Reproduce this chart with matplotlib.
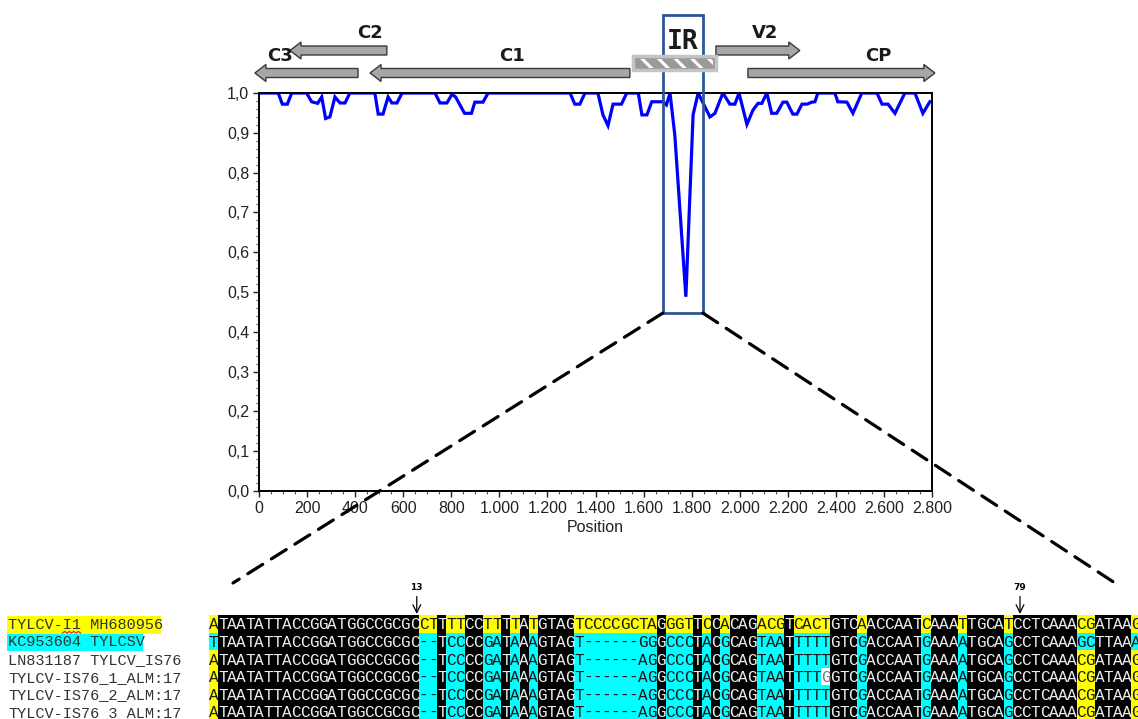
import numpy as np
import matplotlib
matplotlib.use("Agg")
import matplotlib.pyplot as plt
from matplotlib.patches import Polygon, Rectangle, ConnectionPatch
from matplotlib.ticker import FuncFormatter, MultipleLocator
from matplotlib.colors import to_rgb

# ---------------- data ----------------
position = [0, 80, 97, 118, 136, 198, 219, 244, 261, 277, 295, 316, 337, 358, 378,
            482, 496, 516, 537, 553, 574, 595, 732, 753, 782, 803, 818, 855, 884, 898,
            932, 953, 1294, 1314, 1335, 1356, 1410, 1431, 1452, 1473, 1508, 1530, 1578,
            1593, 1614, 1634, 1681, 1695, 1710, 1730, 1776, 1806, 1827, 1876, 1897, 1930,
            1959, 1980, 1997, 2030, 2055, 2076, 2092, 2113, 2133, 2154, 2180, 2196, 2221,
            2238, 2259, 2280, 2300, 2313, 2325, 2396, 2408, 2446, 2471, 2508, 2571, 2592,
            2617, 2646, 2687, 2729, 2762, 2791]
similarity = [1.0, 1.0, 0.972, 0.972, 1.0, 1.0, 0.978, 0.974, 0.99, 0.936, 0.94, 0.99, 0.975, 0.975, 1.0,
              1.0, 0.947, 0.947, 0.99, 0.975, 0.975, 1.0, 1.0, 0.975, 0.975, 0.997, 0.99, 0.949, 0.949, 0.977,
              0.977, 1.0, 1.0, 0.972, 0.972, 1.0, 1.0, 0.945, 0.918, 0.972, 0.972, 1.0, 1.0,
              0.945, 0.945, 0.978, 0.978, 0.97, 1.0, 0.894, 0.488, 0.945, 1.0, 0.94, 0.949, 1.0,
              0.972, 0.972, 1.0, 0.921, 0.957, 0.974, 0.974, 1.0, 0.949, 0.949, 0.977, 0.977, 0.947,
              0.947, 0.972, 0.972, 0.977, 0.978, 1.0, 1.0, 0.978, 0.977, 0.949, 1.0, 1.0, 0.972,
              0.972, 0.949, 1.0, 1.0, 0.949, 0.978]

y_ticks = [0.0, 0.1, 0.2, 0.3, 0.4, 0.5, 0.6, 0.7, 0.8, 0.9, 1.0]
x_ticks = [0, 200, 400, 600, 800, 1000, 1200, 1400, 1600, 1800, 2000, 2200, 2400, 2600, 2800]

gene_names = ["C3", "C2", "C1", "V2", "CP"]
gene_start = [412, 532, 1543, 1901, 2034]
gene_end = [-17, 129, 462, 2250, 2812]
gene_track = [0, 1, 0, 1, 0]
gene_label_x = [87, 462, 1052, 2105, 2575]
ir_start, ir_end = 1556, 1901
ir_label_x = 1764
zoom_start, zoom_end = 1680, 1847
zoom_floor = 0.447

seq_names = ["TYLCV-I1 MH680956", "KC953604 TYLCSV", "LN831187 TYLCV_IS76",
             "TYLCV-IS76_1_ALM:17", "TYLCV-IS76_2_ALM:17", "TYLCV-IS76_3_ALM:17"]
sequences = [
    "ATAATATTACCGGATGGCCGCGC" "CTTTTCCTTTTATGTAGTCCCCGCTAGGGTTCCACAG" "ACGTCACTGTCAACCAATCAAATTGCATCCTCAAACGATAAG",
    "TTAATATTACCGGATGGCCGCGC" "--TCCCCGATAAAGTAGT------GGGCCCTACGCAG" "TAATTTTTGTCGACCAATGAAAATGCAGCCTCAAAGCTTAAA",
    "ATAATATTACCGGATGGCCGCGC" "--TCCCCGATAAAGTAGT------AGGCCCTACGCAG" "TAATTTTTGTCGACCAATGAAAATGCAGCCTCAAACGATAAG",
    "ATAATATTACCGGATGGCCGCGC" "--TCCCCGATAAAGTAGT------AGGCCCTACGCAG" "TAATTTTGGTCGACCAATGAAAATGCAGCCTCAAACGATAAG",
    "ATAATATTACCGGATGGCCGCGC" "--TCCCCGATAAAGTAGT------AGGCCCTACGCAG" "TAATTTTTGTCGACCAATGAAAATGCAGCCTCAAACGATAAG",
    "ATAATATTACCGGATGGCCGCGC" "--TCCCCGATAAAGTAGT------AGGCCCTACGCAG" "TAATTTTTGTCGACCAATGAAAATGCAGCCTCAAACGATAAG",
]
# Y = yellow, C = cyan, K = black, W = white
shading = [
    "Y" + "K" * 22 + "YYKYYKKYYKYKYKKKKYYYYYYYYYKYYYKYKYKKK" + "YYYKYYYYKKKYKKKKKKYKKKYKKKKYKKKKKKKYYKKKKY",
    "C" + "K" * 22 + "CCKCCKKCCKCKCKKKKCCCCCCCCCKCCCKCKCKKK" + "CCCKCCCCKKKCKKKKKKCKKKCKKKKCKKKKKKKCCKKKKC",
    "Y" + "K" * 22 + "CCKCCKKCCKCKCKKKKCCCCCCCCCKCCCKCKCKKK" + "CCCKCCCCKKKCKKKKKKCKKKCKKKKCKKKKKKKYYKKKKY",
    "Y" + "K" * 22 + "CCKCCKKCCKCKCKKKKCCCCCCCCCKCCCKCKCKKK" + "CCCKCCCWKKKCKKKKKKCKKKCKKKKCKKKKKKKYYKKKKY",
    "Y" + "K" * 22 + "CCKCCKKCCKCKCKKKKCCCCCCCCCKCCCKCKCKKK" + "CCCKCCCCKKKCKKKKKKCKKKCKKKKCKKKKKKKYYKKKKY",
    "Y" + "K" * 22 + "CCKCCKKCCKCKCKKKKCCCCCCCCCKCCCKCKCKKK" + "CCCKCCCCKKKCKKKKKKCKKKCKKKKCKKKKKKKYYKKKKY",
]
name_shading = ["Y", "C", None, None, None, None]
marker_cols = [22.75, 88.8]
marker_labels = ["13", "79"]

# ---------------- figure ----------------
W, H = 1138, 719
fig = plt.figure(figsize=(W / 100, H / 100), dpi=100)
plt.rcParams["hatch.linewidth"] = 2.2

def fx(px):
    return px / W

def fy(py):
    return 1 - py / H

# main similarity axes
ax = fig.add_axes([fx(259), fy(491), (932 - 259) / W, (491 - 93) / H])
ax.plot(position, similarity, color="#0000FF", lw=2.3, zorder=2, solid_joinstyle="miter")
ax.set_xlim(0, 2800)
ax.set_ylim(0, 1.0)
ax.set_yticks(y_ticks)
ax.set_xticks(x_ticks)
ax.yaxis.set_minor_locator(MultipleLocator(0.02))
ax.xaxis.set_minor_locator(MultipleLocator(50))
ax.yaxis.set_major_formatter(FuncFormatter(lambda v, _: f"{v:.1f}".replace(".", ",")))
ax.xaxis.set_major_formatter(FuncFormatter(lambda v, _: f"{int(round(v)):,}".replace(",", ".")))
for lab in ax.get_xticklabels() + ax.get_yticklabels():
    lab.set_fontfamily("Liberation Sans")
ax.tick_params(which="major", direction="out", length=4, width=1, labelsize=11.5, colors="#222222", pad=3)
ax.tick_params(which="minor", direction="out", length=2, width=0.8, color="#555555")
for sp in ax.spines.values():
    sp.set_linewidth(1.4)
    sp.set_color("black")
ax.set_xlabel("Position", fontsize=11.5, fontfamily="Liberation Sans", color="#222222", labelpad=3)

# zoom box around IR
ax.add_patch(Rectangle((zoom_start, zoom_floor), zoom_end - zoom_start, 1.196 - zoom_floor,
                       fill=False, ec="#2F5597", lw=2.0, clip_on=False, zorder=6))

# gene map axes
axg = fig.add_axes([fx(259), fy(92), (932 - 259) / W, (92 - 8) / H])
axg.set_xlim(0, 2800)
axg.set_ylim(92, 8)
axg.axis("off")
px_per_unit = (932 - 259) / 2800.0
hl = 11 / px_per_unit
track_y = {0: 73.0, 1: 50.5}
bh, hh = 4.5, 8.5
for name, s, e, t, lx in zip(gene_names, gene_start, gene_end, gene_track, gene_label_x):
    y = track_y[t]
    d = 1 if e > s else -1
    b = e - d * hl
    verts = [(s, y - bh), (b, y - bh), (b, y - hh), (e, y), (b, y + hh), (b, y + bh), (s, y + bh)]
    axg.add_patch(Polygon(verts, closed=True, fc="#A6A6A6", ec="#3A3A3A", lw=1.0, clip_on=False))
    ly = y - 17 if t == 0 else y - 18
    axg.text(lx, ly, name, ha="center", va="center", fontsize=13, fontweight="bold",
             fontfamily="DejaVu Sans", color="#1a1a1a", clip_on=False)
axg.add_patch(Rectangle((ir_start, 56), ir_end - ir_start, 14, fc="#9A9A9A", ec="#C4C4C4", lw=2.5,
                        clip_on=False))
axg.add_patch(Rectangle((ir_start + 12, 58.5), ir_end - ir_start - 24, 9, fill=False, ec="white",
                        lw=0, hatch="\\\\", clip_on=False))
axg.text(ir_label_x, 42, "IR", ha="center", va="center", fontsize=19, fontweight="bold",
         fontfamily="DejaVu Sans Mono", color="#1a1a1a")

# alignment axes (cell units)
cw = 9.133
rh = 17.6
ax_al = fig.add_axes([fx(209), 0, (W - 209) / W, (H - 615) / H])
ax_al.set_xlim(0, (W - 209) / cw)
ax_al.set_ylim((H - 615) / rh, 0)
ax_al.axis("off")

palette = {"Y": "#FFFF00", "C": "#00FFFF", "K": "#000000", "W": "#FFFFFF"}
txtcol = {"Y": "#1a1a1a", "C": "#1a1a1a", "K": "#EDEDED", "W": "#7A7A7A"}
ncol = len(sequences[0])
img = np.array([[to_rgb(palette[c]) for c in row] for row in shading])
ax_al.imshow(img, extent=(0, ncol, len(sequences), 0), aspect="auto", interpolation="nearest",
             zorder=1)
for r, (seq, sh) in enumerate(zip(sequences, shading)):
    for i, (ch, c) in enumerate(zip(seq, sh)):
        ax_al.text(i + 0.5, r + 0.56, ch, ha="center", va="center", fontsize=11.5,
                   fontfamily="Liberation Mono", color=txtcol[c], zorder=3)

name_x = -22.0
for r, (nm, shd) in enumerate(zip(seq_names, name_shading)):
    if shd is not None:
        ax_al.add_patch(Rectangle((name_x - 0.1, r + 0.08), len(nm) * 0.993, 0.98,
                                  fc=palette[shd], ec="none", clip_on=False, zorder=1))
    ax_al.text(name_x, r + 0.56, nm, ha="left", va="center", fontsize=11,
               fontfamily="Liberation Mono", color="#333333", clip_on=False, zorder=3)
# red squiggle under "I1"
zx = np.linspace(name_x + 6 * 0.993, name_x + 8 * 0.993, 9)
zy = 0.98 + 0.05 * np.array([(-1) ** k for k in range(9)])
ax_al.plot(zx, zy, color="#E03030", lw=0.9, clip_on=False, zorder=4)

for mx, ml in zip(marker_cols, marker_labels):
    ax_al.annotate("", xy=(mx, -0.06), xytext=(mx, -1.05), annotation_clip=False,
                   arrowprops=dict(arrowstyle="->", lw=0.9, color="black", mutation_scale=14,
                                   shrinkA=0, shrinkB=0))
    ax_al.text(mx, -1.55, ml, ha="center", va="center", fontsize=6.5, fontweight="bold",
               fontfamily="DejaVu Sans", clip_on=False)

# dashed connectors from zoom box to alignment
for xa, xb in [(zoom_start, (233 - 209) / cw), (zoom_end, (1115 - 209) / cw)]:
    con = ConnectionPatch(xyA=(xa, zoom_floor), coordsA=ax.transData,
                          xyB=(xb, (583 - 615) / rh), coordsB=ax_al.transData,
                          color="black", lw=2.3, linestyle=(0, (5.5, 3.2)), zorder=10)
    fig.add_artist(con)

fig.savefig("out.png", dpi=100)
